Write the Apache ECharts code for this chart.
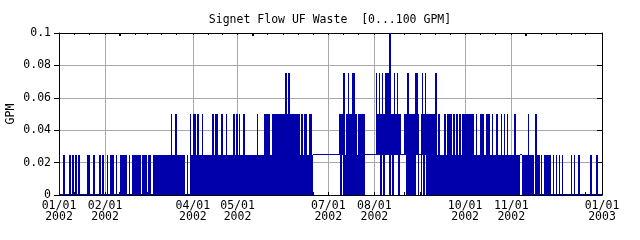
<!DOCTYPE html>
<html><head><meta charset="utf-8">
<script src="https://cdn.jsdelivr.net/npm/echarts@6/dist/echarts.min.js"></script>
<style>html,body{margin:0;padding:0;background:#fff}#c{width:640px;height:240px}</style>
</head><body><div id="c"></div>
<script>
const titleText = 'Signet Flow UF Waste  [0...100 GPM]';
const yAxisName = 'GPM';
const monthStartDay = [0, 31, 59, 90, 120, 151, 181, 212, 243, 273, 304, 334];
const yearDays = 365;
const levelStep = 0.025; // GPM per level step seen in the picture

// daily maximum level (multiples of 0.025 GPM), one string per month, one digit per day
const dailyMaxLevel = [
  '1001000101 0101000001 1001000101 0',
  '0101110100 1111101011 11110111',
  '0110111111 1111112112 1111110102 1',
  '2212112111 1112122112 1121111212',
  '1211211111 1112111122 2212222222 2',
  '2323222222 2121221221 1111111111',
  '1111111222 3123223321 2222211111 1',
  '1323232333 4223232211 2232222332 1',
  '2323222222 3121112122 2121212122',
  '2222221211 2221222121 1211212121 1',
  '1121111111 1211102110 1011111010',
  '1010100000 1010010000 0001000100 0'
];
// daily minimum level, same layout
const dailyMinLevel = [
  '0000000000 0000000000 0000000000 0',
  '0000000000 0000000000 00000000',
  '0000000000 0000000000 0000000000 0',
  '0000000000 0000000000 0000000000',
  '0000000000 0000000000 0000000000 0',
  '0000000000 0000000000 1111111111',
  '1111111101 0000000000 0000011111 1',
  '1111010111 0101110111 1000000010 1',
  '0101000000 0000000000 0000000000',
  '0000000000 0000000000 0000000000 0',
  '0000001000 0000000000 0000000000',
  '0000000000 0000000000 0000000000 0'
];

const xTickDays = [0, 31, 90, 120, 181, 212, 273, 304, 365];
const xTickLabels = ['01/01\n2002', '02/01\n2002', '04/01\n2002', '05/01\n2002', '07/01\n2002',
                     '08/01\n2002', '10/01\n2002', '11/01\n2002', '01/01\n2003'];
const yTickValues = [0, 0.02, 0.04, 0.06, 0.08, 0.1];
const yTickLabels = ['0', '0.02', '0.04', '0.06', '0.08', '0.1'];
const boldTickDays = [41, 130, 222, 314];

const minorTickDays = [];
monthStartDay.forEach(s => { minorTickDays.push(s, s + 10, s + 20); });
minorTickDays.push(yearDays);

// one record per day: [day, daily min GPM, daily max GPM]
const dayRanges = [];
dailyMaxLevel.forEach((mStr, m) => {
  const hi = mStr.replace(/\s/g, '');
  const lo = dailyMinLevel[m].replace(/\s/g, '');
  for (let i = 0; i < hi.length; i++) {
    dayRanges.push([monthStartDay[m] + i, Number(lo[i]) * levelStep, Number(hi[i]) * levelStep]);
  }
});

const FONT = 'DejaVu Sans Mono';
const gridColor = '#a8a8a8';
const lineColor = '#0000aa';

function tickAxis(position, days, length, width) {
  return {
    type: 'value', min: 0, max: yearDays, position: position,
    axisLine: {show: false, onZero: false},
    axisTick: {show: true, inside: true, length: length, customValues: days, lineStyle: {color: '#000', width: width}},
    axisLabel: {show: false},
    splitLine: {show: false}
  };
}

const chart = echarts.init(document.getElementById('c'), null, {renderer: 'canvas'});
chart.setOption({
  animation: false,
  backgroundColor: '#ffffff',
  title: {
    text: titleText, left: 325, top: 8, textAlign: 'center',
    textStyle: {fontFamily: FONT, fontSize: 11.5, fontWeight: 'normal', color: '#000', lineHeight: 14}
  },
  grid: {left: 59, right: 38, top: 33, bottom: 45, containLabel: false, outerBoundsMode: 'none'},
  xAxis: [
    {
      type: 'value', min: 0, max: yearDays, position: 'bottom',
      axisLine: {show: true, onZero: false, lineStyle: {color: '#000', width: 1}},
      axisTick: {show: false, customValues: xTickDays},
      axisLabel: {
        customValues: xTickDays, margin: 6, fontFamily: FONT, fontSize: 11.5, color: '#000', lineHeight: 11,
        formatter: v => { const k = xTickDays.indexOf(Math.round(v)); return k >= 0 ? xTickLabels[k] : ''; }
      },
      splitLine: {show: true, lineStyle: {color: gridColor, width: 1}}
    },
    {
      type: 'value', min: 0, max: yearDays, position: 'top',
      axisLine: {show: true, onZero: false, lineStyle: {color: '#000', width: 1}},
      axisTick: {show: true, inside: true, length: 2, customValues: minorTickDays, lineStyle: {color: '#000'}},
      axisLabel: {show: false},
      splitLine: {show: false}
    },
    tickAxis('bottom', minorTickDays, 3, 1),
    tickAxis('top', boldTickDays, 3, 2),
    tickAxis('bottom', boldTickDays, 3, 2)
  ],
  yAxis: [
    {
      type: 'value', min: 0, max: 0.1, interval: 0.02, position: 'left',
      name: yAxisName, nameLocation: 'middle', nameRotate: 90, nameGap: 42, nameMoveOverlap: false,
      nameTextStyle: {fontFamily: FONT, fontSize: 11.5, color: '#000'},
      axisLine: {show: true, onZero: false, lineStyle: {color: '#000', width: 1}},
      axisTick: {show: true, inside: false, length: 5, lineStyle: {color: '#000'}},
      axisLabel: {
        margin: 8, fontFamily: FONT, fontSize: 11.5, color: '#000',
        formatter: v => { const k = yTickValues.findIndex(t => Math.abs(t - v) < 1e-9); return k >= 0 ? yTickLabels[k] : ''; }
      },
      splitLine: {show: true, lineStyle: {color: gridColor, width: 1}}
    },
    {
      type: 'value', min: 0, max: 0.1, interval: 0.02, position: 'right',
      axisLine: {show: true, onZero: false, lineStyle: {color: '#000', width: 1}},
      axisTick: {show: true, inside: true, length: 5, lineStyle: {color: '#000'}},
      axisLabel: {show: false},
      splitLine: {show: false}
    }
  ],
  series: [{
    type: 'custom', xAxisIndex: 0, yAxisIndex: 0, data: dayRanges,
    encode: {x: 0, y: [1, 2]}, silent: true, clip: false, z: 3,
    renderItem: (params, api) => {
      const d = api.value(0), lo = api.value(1), hi = api.value(2);
      const pLeftTop = api.coord([d, hi]);
      const pRightBot = api.coord([d + 1, lo]);
      const x0 = Math.round(pLeftTop[0]);
      const x1 = Math.max(x0 + 1, Math.round(pRightBot[0]));
      let y0 = Math.round(pLeftTop[1]);
      let y1 = Math.round(pRightBot[1]);
      if (y1 - y0 < 1) { y0 = y1 - 1; }
      return {
        type: 'rect',
        shape: {x: x0, y: y0, width: x1 - x0, height: y1 - y0},
        style: {fill: lineColor}
      };
    }
  }]
});
</script>
</body></html>
